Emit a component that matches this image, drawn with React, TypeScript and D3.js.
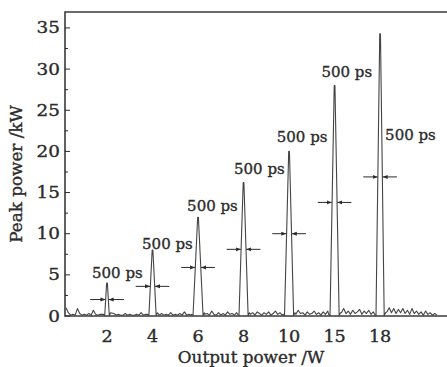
import { useEffect, useRef } from 'react';
import * as d3 from 'd3';

// Output power categories (W) and the peak of each pulse trace (kW)
const powers = ['2', '4', '6', '8', '10', '15', '18'];
const peakPower = [4.0, 8.0, 12.0, 16.2, 20.0, 28.0, 34.3];
// half width of each pulse at its base, in category units
const peakHalfBase = [0.05, 0.08, 0.11, 0.1, 0.1, 0.1, 0.09];
// level of the FWHM arrows (kW)
const fwhmLevel = [2.0, 3.6, 5.9, 8.1, 10.0, 13.8, 16.9];
const pulseLabel = '500 ps';

// baseline noise of the trace, sampled every 0.05 category unit from 0.1
const noise = [
    1.0, 0.4, 0.1, 0.2, 0.1, 0.9, 0.3, 0.1, 0.2, 0.1,
    0.3, 0.1, 0.7, 0.2, 0.1, 0.2, 0.1, 0.3, 0.1, 0.2,
    0.1, 0.3, 0.1, 0.2, 0.1, 0.1, 0.3, 0.1, 0.2, 0.1,
    0.1, 0.2, 0.1, 0.4, 0.1, 0.2, 0.1, 0.3, 0.1, 0.2,
    0.4, 0.1, 0.3, 0.1, 0.2, 0.1, 0.4, 0.1, 0.2, 0.1,
    0.3, 0.1, 0.5, 0.1, 0.2, 0.1, 0.3, 0.2, 0.1, 0.2,
    0.5, 0.2, 0.3, 0.1, 0.6, 0.2, 0.1, 0.4, 0.1, 0.3,
    0.1, 0.5, 0.2, 0.3, 0.1, 0.4, 0.2, 0.1, 0.2, 0.1,
    0.6, 0.2, 0.4, 0.1, 0.5, 0.3, 0.1, 0.4, 0.2, 0.5,
    0.1, 0.3, 0.6, 0.2, 0.4, 0.1, 0.3, 0.2, 0.1, 0.2,
    0.5, 0.2, 0.7, 0.3, 0.4, 0.1, 0.5, 0.2, 0.3, 0.6,
    0.2, 0.4, 0.1, 0.5, 0.2, 0.6, 0.3, 0.2, 0.1, 0.2,
    0.8, 0.4, 0.9, 0.3, 0.6, 0.2, 0.7, 0.3, 0.5, 0.8,
    0.2, 0.6, 0.3, 0.7, 0.2, 0.5, 0.3, 0.2, 0.1, 0.2,
    1.3, 0.5, 1.0, 0.4, 0.9, 0.3, 0.8, 0.4, 0.9, 0.3,
    0.7, 0.2, 0.9, 0.3, 0.6, 0.2, 0.5, 0.1, 0.6, 0.2,
    0.4, 0.1, 0.3, 0.1,
];

const yTicks = [0, 5, 10, 15, 20, 25, 30, 35];

export default function App() {
    const svgRef = useRef<SVGSVGElement>(null);

    useEffect(() => {
        if (!svgRef.current) return;
        const svg = d3.select(svgRef.current);
        svg.selectAll('*').remove();

        const left = 65, right = 447, top = 12, bottom = 316;
        const font = 'DejaVu Serif';
        const ink = '#2b2b2b';

        const x = d3.scaleLinear().domain([0.077, 8.47]).range([left, right]);
        const y = d3.scaleLinear().domain([0, 35]).range([bottom, bottom - 35 * 8.23]);

        // arrowhead
        const defs = svg.append('defs');
        defs.append('marker')
            .attr('id', 'ah')
            .attr('viewBox', '0 0 10 10')
            .attr('refX', 10)
            .attr('refY', 5)
            .attr('markerWidth', 5)
            .attr('markerHeight', 5)
            .attr('markerUnits', 'userSpaceOnUse')
            .attr('orient', 'auto')
            .append('path')
            .attr('d', 'M0,1 L10,5 L0,9 Z')
            .attr('fill', ink);

        // frame: top, left, bottom (no right side)
        svg.append('path')
            .attr('d', `M${right},${top}H${left}V${bottom}H${right}`)
            .attr('stroke', '#3a3a3a')
            .attr('stroke-width', 1.6)
            .attr('fill', 'none');

        const addText = (sel: d3.Selection<SVGTextElement, any, any, any>, size: number) =>
            sel.attr('font-family', font)
                .attr('font-size', size)
                .attr('fill', ink)
                .attr('stroke', ink)
                .attr('stroke-width', 0.35);

        // y ticks inside
        const yAxis = svg.append('g').attr('transform', `translate(${left},0)`);
        yAxis.selectAll('line.major')
            .data(yTicks)
            .enter()
            .append('line')
            .attr('x1', 0).attr('x2', 5)
            .attr('y1', d => y(d)).attr('y2', d => y(d))
            .attr('stroke', ink).attr('stroke-width', 1);
        yAxis.selectAll('line.minor')
            .data(yTicks.slice(0, -1).map(d => d + 2.5))
            .enter()
            .append('line')
            .attr('x1', 0).attr('x2', 3)
            .attr('y1', d => y(d)).attr('y2', d => y(d))
            .attr('stroke', ink).attr('stroke-width', 1);
        addText(yAxis.selectAll('text')
            .data(yTicks)
            .enter()
            .append('text')
            .attr('transform', d => `translate(-5,${y(d) + 5.5}) scale(1.15,1)`)
            .attr('text-anchor', 'end')
            .text(d => d), 16);

        // x tick labels
        addText(svg.append('g')
            .selectAll('text')
            .data(powers)
            .enter()
            .append('text')
            .attr('transform', (d, i) => `translate(${x(i + 1)},${bottom + 26}) scale(1.1,1)`)
            .attr('text-anchor', 'middle')
            .text(d => d), 16);

        // axis titles
        addText(svg.append('text')
            .attr('transform', `translate(251,363) scale(1.05,1)`)
            .attr('text-anchor', 'middle')
            .text('Output power /W'), 16);
        addText(svg.append('text')
            .attr('transform', `translate(22,174) rotate(-90) scale(1.05,1)`)
            .attr('text-anchor', 'middle')
            .text('Peak power /kW'), 16);

        // trace: noise baseline plus pulses
        const pts: [number, number][] = [];
        noise.forEach((v, i) => {
            const u = 0.1 + i * 0.05;
            if (peakPower.some((_, k) => Math.abs(u - (k + 1)) < 0.13)) return;
            pts.push([u, v]);
        });
        peakPower.forEach((h, k) => {
            const c = k + 1, hw = peakHalfBase[k];
            pts.push([c - hw - 0.03, 0.2], [c - hw, 0.05], [c - 0.008, h], [c + 0.008, h], [c + hw, 0.05], [c + hw + 0.03, 0.4]);
        });
        pts.sort((a, b) => a[0] - b[0]);
        const line = d3.line<[number, number]>().x(d => x(d[0])).y(d => y(d[1]));
        svg.append('path')
            .attr('d', line(pts))
            .attr('fill', 'none')
            .attr('stroke', '#444')
            .attr('stroke-width', 1.1)
            .attr('stroke-linejoin', 'round');

        // FWHM arrows
        const arrows = svg.append('g');
        fwhmLevel.forEach((lv, k) => {
            const c = k + 1, h = peakPower[k], hw = peakHalfBase[k];
            const w = hw * (1 - lv / h) + 0.01;
            [-1, 1].forEach(s => {
                arrows.append('line')
                    .attr('x1', x(c + s * 0.37)).attr('x2', x(c + s * w))
                    .attr('y1', y(lv)).attr('y2', y(lv))
                    .attr('stroke', ink).attr('stroke-width', 1)
                    .attr('marker-end', 'url(#ah)');
            });
        });

        // pulse width labels (left edge offset in category units, baseline kW)
        const labelPos: [number, number][] = [
            [-0.33, 4.6], [-0.23, 8.2], [-0.24, 12.8], [-0.21, 17.2], [-0.27, 21.2], [-0.29, 29.0], [0.11, 21.4],
        ];
        addText(svg.append('g')
            .selectAll('text')
            .data(labelPos)
            .enter()
            .append('text')
            .attr('x', (d, i) => x(i + 1 + d[0]))
            .attr('y', d => y(d[1]))
            .text(pulseLabel), 15);
    }, []);

    return (
        <svg
            ref={svgRef}
            width={447}
            height={367}
            style={{ position: 'fixed', left: 0, top: 0, background: '#fff' }}
        />
    );
}
